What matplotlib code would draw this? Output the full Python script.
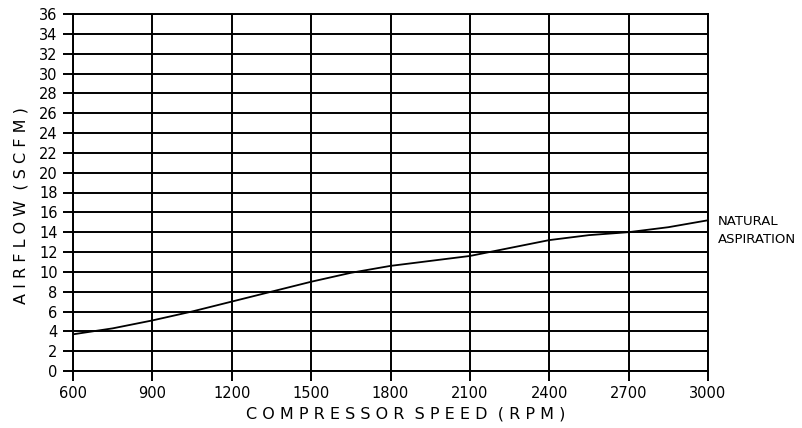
import matplotlib
matplotlib.use("Agg")
import matplotlib.pyplot as plt

speed_rpm = [600, 750, 900, 1050, 1200, 1350, 1500, 1650, 1800, 1950, 2100, 2250, 2400, 2550, 2700, 2850, 3000]
airflow_scfm = [3.7, 4.3, 5.1, 6.0, 7.0, 8.0, 9.0, 9.9, 10.6, 11.1, 11.6, 12.4, 13.2, 13.7, 14.0, 14.5, 15.2]
x_ticks = [600, 900, 1200, 1500, 1800, 2100, 2400, 2700, 3000]
y_ticks = list(range(0, 37, 2))
series_label = "NATURAL\nASPIRATION"

plt.rcParams['font.family'] = ['DejaVu Sans']

fig = plt.figure(figsize=(8.03, 4.28), dpi=100)
ax = fig.add_axes([73/803, 1 - 371/428, (708-73)/803, (371-14)/428])
ax.plot(speed_rpm, airflow_scfm, color='black', lw=1.3)
ax.set_xlim(600, 3000)
ax.set_ylim(0, 36)
ax.set_xticks(x_ticks)
ax.set_yticks(y_ticks)
ax.set_xticklabels([str(v) for v in x_ticks], fontsize=10.5)
ax.set_yticklabels([str(v) for v in y_ticks], fontsize=10.5)
ax.grid(True, color='black', lw=1.4)
for s in ax.spines.values():
    s.set_linewidth(1.4)
ax.tick_params(direction='out', length=7, width=1.4, pad=4)
ax.set_xlabel("C O M P R E S S O R  S P E E D  ( R P M )", fontsize=11.5)
ax.xaxis.set_label_coords((406-73)/635, -0.1)
ax.set_ylabel("A I R F L O W  ( S C F M )", fontsize=11.5)
ax.yaxis.set_label_coords(-0.07, (371-206)/357)
ax.text(1.015, 14.2 / 36, series_label, transform=ax.transAxes,
        fontsize=9.5, va='center', ha='left', linespacing=1.5)
fig.savefig("out.png", dpi=100)
